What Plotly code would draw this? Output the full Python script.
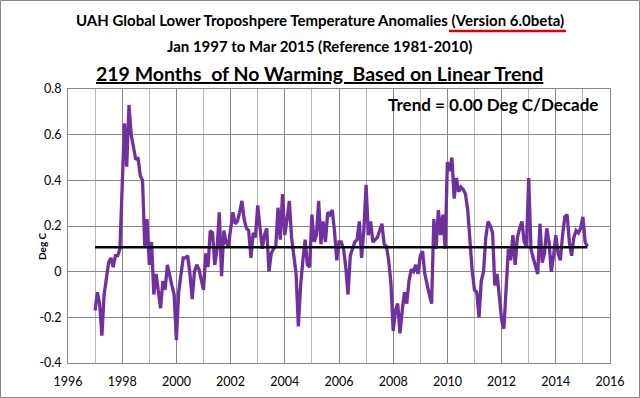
import plotly.graph_objects as go

# Monthly UAH v6.0beta global lower-troposphere anomalies (deg C)
uah_1997 = [-0.17, -0.09, -0.14, -0.28, -0.10, -0.03, 0.04, 0.06, 0.02, 0.07, 0.07, 0.10]
uah_1998 = [0.40, 0.65, 0.46, 0.73, 0.60, 0.55, 0.49, 0.50, 0.42, 0.40, 0.11, 0.23]
uah_1999 = [0.03, 0.13, -0.10, -0.01, -0.08, -0.16, -0.04, -0.08, 0.03, -0.02, -0.06, -0.10]
uah_2000 = [-0.30, -0.09, -0.02, 0.06, 0.06, 0.07, -0.01, -0.12, 0.00, 0.03, 0.01, -0.04]
uah_2001 = [-0.08, 0.08, 0.02, 0.18, 0.17, 0.03, 0.10, 0.26, -0.02, 0.18, 0.13, 0.11]
uah_2002 = [0.19, 0.26, 0.21, 0.22, 0.26, 0.31, 0.23, 0.19, 0.18, 0.06, 0.17, 0.15]
uah_2003 = [0.29, 0.18, 0.10, 0.16, 0.19, 0.00, 0.08, 0.10, 0.11, 0.28, 0.14, 0.34]
uah_2004 = [0.16, 0.23, 0.31, 0.15, 0.08, -0.01, -0.24, -0.06, 0.05, 0.14, 0.03, 0.02]
uah_2005 = [0.25, 0.13, 0.16, 0.31, 0.12, 0.22, 0.13, 0.26, 0.25, 0.27, 0.18, 0.05]
uah_2006 = [0.13, 0.13, 0.10, 0.02, -0.10, 0.07, 0.10, 0.13, 0.14, 0.22, 0.06, 0.18]
uah_2007 = [0.38, 0.16, 0.22, 0.13, 0.14, 0.15, 0.18, 0.21, 0.12, 0.11, 0.05, -0.05]
uah_2008 = [-0.26, -0.17, -0.14, -0.27, -0.17, -0.09, -0.14, -0.04, 0.01, 0.00, 0.03, -0.01]
uah_2009 = [0.07, 0.09, -0.01, -0.06, -0.10, -0.14, 0.23, 0.10, 0.27, 0.16, 0.25, 0.10]
uah_2010 = [0.48, 0.44, 0.50, 0.32, 0.41, 0.35, 0.37, 0.36, 0.34, 0.27, 0.11, 0.00]
uah_2011 = [-0.08, -0.09, -0.20, -0.04, 0.00, 0.15, 0.22, 0.20, 0.17, -0.06, -0.01, -0.10]
uah_2012 = [-0.21, -0.25, -0.08, 0.10, 0.05, 0.16, 0.03, 0.15, 0.19, 0.22, 0.13, 0.11]
uah_2013 = [0.41, 0.10, 0.06, 0.02, -0.01, 0.21, 0.04, 0.08, 0.19, 0.13, 0.00, 0.07]
uah_2014 = [0.16, 0.08, 0.05, 0.16, 0.24, 0.25, 0.13, 0.07, 0.15, 0.18, 0.17, 0.19]
uah_2015 = [0.24, 0.13, 0.11]

start_year = 1997
trend_values = [0.107, 0.107]   # linear-trend line at its first and last month

x_tick_labels = ["1996", "1998", "2000", "2002", "2004", "2006", "2008", "2010", "2012", "2014", "2016"]
y_tick_values = [-0.4, -0.2, 0.0, 0.2, 0.4, 0.6, 0.8]
y_tick_labels = ["-0.4", "-0.2", "0", "0.2", "0.4", "0.6", "0.8"]

anomalies = (uah_1997 + uah_1998 + uah_1999 + uah_2000 + uah_2001 + uah_2002 + uah_2003
             + uah_2004 + uah_2005 + uah_2006 + uah_2007 + uah_2008 + uah_2009 + uah_2010
             + uah_2011 + uah_2012 + uah_2013 + uah_2014 + uah_2015)
dates = [start_year + i / 12.0 for i in range(len(anomalies))]

FONT = "Lato"
fig = go.Figure()
fig.add_trace(go.Scatter(x=dates, y=anomalies, mode="lines",
                         line=dict(color="#7030A0", width=3.3), hoverinfo="skip"))
fig.add_trace(go.Scatter(x=[dates[0], dates[-1]], y=trend_values, mode="lines",
                         line=dict(color="#000000", width=2.5), hoverinfo="skip"))

L, R, T, B = 68, 30, 89, 35
W, H = 640, 398
pw, ph = W - L - R, H - T - B

def px(xp):
    return (xp - L) / pw

def py(yp):
    return (H - B - yp) / ph

fig.update_layout(
    width=W, height=H,
    margin=dict(l=L, r=R, t=T, b=B, autoexpand=False),
    paper_bgcolor="white", plot_bgcolor="white",
    showlegend=False,
    font=dict(family=FONT, color="black"),
    xaxis=dict(range=[1996, 2016], tickmode="array",
               tickvals=[int(t) for t in x_tick_labels], ticktext=x_tick_labels,
               showgrid=True, gridcolor="#888888", gridwidth=1,
               minor=dict(dtick=1, showgrid=True, gridcolor="#b8b8b8", gridwidth=1),
               showline=True, linecolor="#888888", linewidth=1, mirror=True,
               ticks="", ticklabelstandoff=7, tickfont=dict(size=12.5, family=FONT),
               zeroline=False, automargin=False),
    yaxis=dict(range=[-0.4, 0.8], tickmode="array", tickvals=y_tick_values, ticktext=y_tick_labels,
               showgrid=True, gridcolor="#888888", gridwidth=1,
               showline=True, linecolor="#888888", linewidth=1, mirror=True,
               ticks="", ticklabelstandoff=3, tickfont=dict(size=12.5, family=FONT),
               zeroline=False, automargin=False),
    shapes=[dict(type="rect", xref="paper", yref="paper",
                 x0=px(0.5), x1=px(W - 0.5), y0=py(H - 0.5), y1=py(0.5),
                 line=dict(color="#888888", width=1)),
            dict(type="line", xref="paper", yref="paper",
                 x0=px(449), x1=px(566), y0=py(31), y1=py(31),
                 line=dict(color="#e00000", width=2.5))],
)

fig.add_annotation(xref="paper", yref="paper", x=px(42), y=py(246), showarrow=False,
                   xanchor="center", yanchor="middle", textangle=-90,
                   text="<b>Deg C</b>", font=dict(size=10, family=FONT))
fig.add_annotation(xref="paper", yref="paper", x=px(320), y=py(20), showarrow=False,
                   xanchor="center", yanchor="middle",
                   text="<b>UAH Global Lower Troposhpere Temperature Anomalies (Version 6.0beta)</b>",
                   font=dict(size=15, family=FONT))
fig.add_annotation(xref="paper", yref="paper", x=px(319), y=py(46), showarrow=False,
                   xanchor="center", yanchor="middle",
                   text="<b>Jan 1997 to Mar 2015 (Reference 1981-2010)</b>",
                   font=dict(size=15, family=FONT))
fig.add_annotation(xref="paper", yref="paper", x=px(319), y=py(73), showarrow=False,
                   xanchor="center", yanchor="middle",
                   text="<b><span style='text-decoration:underline'>219 Months  of No Warming  Based on Linear Trend</span></b>",
                   font=dict(size=19.5, family=FONT))
fig.add_annotation(xref="paper", yref="paper", x=px(493), y=py(104), showarrow=False,
                   xanchor="center", yanchor="middle",
                   text="<b>Trend = 0.00 Deg C/Decade</b>",
                   font=dict(size=17, family=FONT))

fig.write_html("out.html", config={"displayModeBar": False, "staticPlot": True},
               post_script="document.body.style.margin='0';document.body.style.overflow='hidden';")
